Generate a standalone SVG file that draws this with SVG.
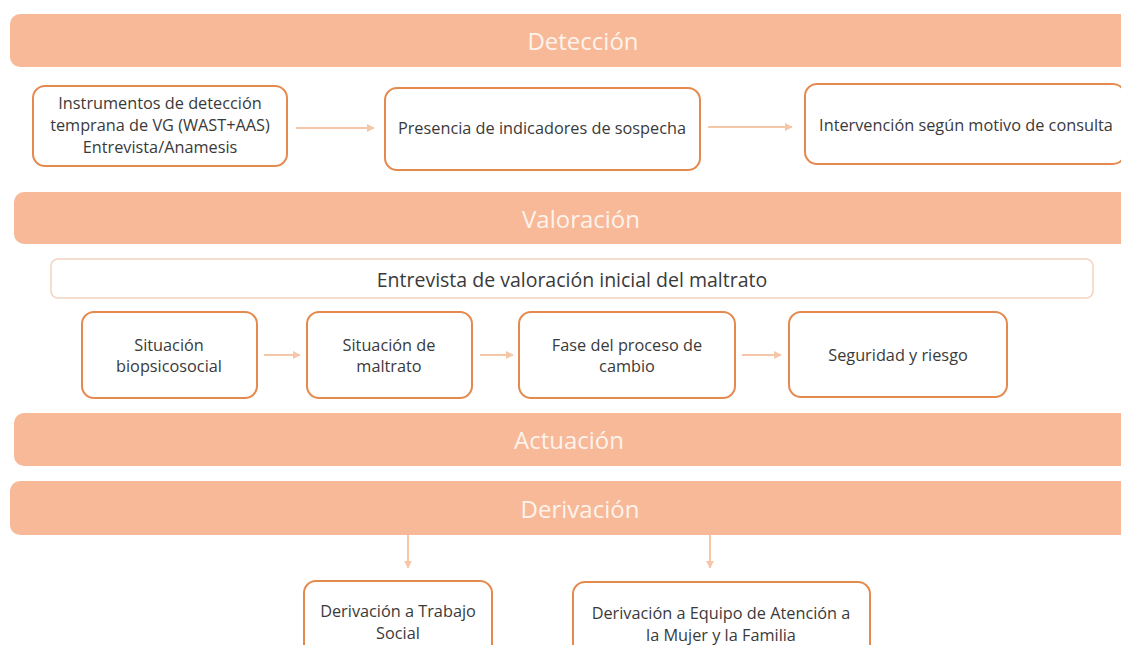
<svg xmlns="http://www.w3.org/2000/svg" width="1121" height="645" viewBox="0 0 1121 645">
<style>
.bar{fill:#f8b998;}
.bt{font-family:"Open Sans","Liberation Sans",sans-serif;font-size:24px;fill:#fdf3ec;text-anchor:middle;}
.box{fill:#ffffff;stroke:#e58a4e;stroke-width:2;}
.lbox{fill:#ffffff;stroke:#f3d3bf;stroke-width:1.5;}
.t{font-family:"Open Sans","Liberation Sans",sans-serif;font-size:16.3px;fill:#3a3a3a;text-anchor:middle;}
.tl{font-family:"Open Sans","Liberation Sans",sans-serif;font-size:19.5px;fill:#3a3a3a;text-anchor:middle;}
.c{stroke:#f5c6a8;stroke-width:2;fill:none;marker-end:url(#ah);}
</style>
<defs>
<marker id="ah" viewBox="0 0 10 10" refX="9" refY="5" markerWidth="4" markerHeight="4" orient="auto" markerUnits="strokeWidth">
<path d="M0,0 L10,5 L0,10 z" fill="#f5c6a8"/>
</marker>
</defs>
<rect width="1121" height="645" fill="#ffffff"/>
<g id="connectors">
<line class="c" x1="296" y1="128" x2="374" y2="128"/>
<line class="c" x1="708" y1="127" x2="792" y2="127"/>
<line class="c" x1="264" y1="355" x2="300" y2="355"/>
<line class="c" x1="480" y1="355" x2="513" y2="355"/>
<line class="c" x1="742" y1="355" x2="781" y2="355"/>
<line class="c" x1="408" y1="535" x2="408" y2="568"/>
<line class="c" x1="710" y1="535" x2="710" y2="568"/>
</g>
<g id="deteccion">
<rect class="bar" x="10" y="14" width="1125" height="53" rx="10"/>
<text class="bt" x="583" y="50">Detección</text>
</g>
<g id="instrumentos">
<rect class="box" x="33" y="86" width="254" height="80" rx="12"/>
<text class="t" x="160" y="109">Instrumentos de detección</text>
<text class="t" x="160" y="131">temprana de VG (WAST+AAS)</text>
<text class="t" x="160" y="153">Entrevista/Anamesis</text>
</g>
<g id="presencia">
<rect class="box" x="385" y="88" width="315" height="82" rx="12"/>
<text class="t" x="542" y="134">Presencia de indicadores de sospecha</text>
</g>
<g id="intervencion">
<rect class="box" x="805" y="84" width="320" height="80" rx="12"/>
<text class="t" x="966" y="131">Intervención según motivo de consulta</text>
</g>
<g id="valoracion">
<rect class="bar" x="14" y="192" width="1125" height="52" rx="10"/>
<text class="bt" x="581" y="228">Valoración</text>
</g>
<g id="entrevista">
<rect class="lbox" x="51" y="259" width="1042" height="39" rx="7"/>
<text class="tl" x="572" y="287">Entrevista de valoración inicial del maltrato</text>
</g>
<g id="biopsicosocial">
<rect class="box" x="82" y="312" width="175" height="86" rx="12"/>
<text class="t" x="169" y="351">Situación</text>
<text class="t" x="169" y="372">biopsicosocial</text>
</g>
<g id="maltrato">
<rect class="box" x="307" y="312" width="165" height="86" rx="12"/>
<text class="t" x="389" y="351">Situación de</text>
<text class="t" x="389" y="372">maltrato</text>
</g>
<g id="fase">
<rect class="box" x="519" y="312" width="216" height="86" rx="12"/>
<text class="t" x="627" y="351">Fase del proceso de</text>
<text class="t" x="627" y="372">cambio</text>
</g>
<g id="seguridad">
<rect class="box" x="789" y="312" width="218" height="85" rx="12"/>
<text class="t" x="898" y="361">Seguridad y riesgo</text>
</g>
<g id="actuacion">
<rect class="bar" x="14" y="413" width="1125" height="53" rx="10"/>
<text class="bt" x="569" y="449">Actuación</text>
</g>
<g id="derivacion">
<rect class="bar" x="10" y="481" width="1125" height="54" rx="10"/>
<text class="bt" x="580" y="518">Derivación</text>
</g>
<g id="trabajo-social">
<rect class="box" x="304" y="581" width="188" height="80" rx="12"/>
<text class="t" x="398" y="617">Derivación a Trabajo</text>
<text class="t" x="398" y="639">Social</text>
</g>
<g id="equipo-atencion">
<rect class="box" x="573" y="582" width="297" height="80" rx="12"/>
<text class="t" x="721" y="619">Derivación a Equipo de Atención a</text>
<text class="t" x="721" y="641">la Mujer y la Familia</text>
</g>
</svg>
